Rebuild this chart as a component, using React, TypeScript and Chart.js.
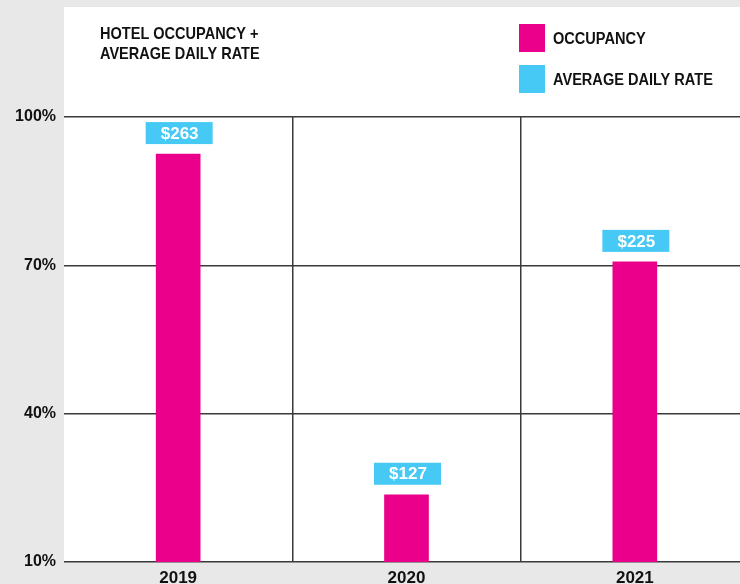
import React, { useEffect, useRef } from 'react';
import { Chart, registerables } from 'chart.js';

Chart.register(...registerables);

const TITLE_LINES = ['HOTEL OCCUPANCY +', 'AVERAGE DAILY RATE'];
const YEARS = ['2019', '2020', '2021'];
const OCCUPANCY = [92.5, 23.6, 70.7];
const ADR = [263, 127, 225];
const Y_TICKS = [10, 40, 70, 100];
const LEGEND_LABELS = ['OCCUPANCY', 'AVERAGE DAILY RATE'];

const PINK = '#EA008A';
const BLUE = '#46C9F5';
const GRAY_BG = '#E8E8E8';
const GRID = '#3a3a3a';
const TEXT = '#111111';
const FONT = "'Liberation Sans', Arial, sans-serif";

function condensedText(ctx: any, text: string, x: number, y: number, sx: number) {
  ctx.save();
  ctx.translate(x, y);
  ctx.scale(sx, 1);
  ctx.fillText(text, 0, 0);
  ctx.restore();
}

const decor = {
  id: 'decor',
  beforeDraw(chart: any) {
    const { ctx, chartArea, width, height } = chart;
    ctx.save();
    ctx.fillStyle = GRAY_BG;
    ctx.fillRect(0, 0, width, height);
    ctx.fillStyle = '#ffffff';
    ctx.fillRect(chartArea.left, 7, width - chartArea.left, chartArea.bottom - 7);

    ctx.fillStyle = TEXT;
    ctx.textAlign = 'left';
    ctx.textBaseline = 'alphabetic';
    ctx.font = `bold 17px ${FONT}`;
    condensedText(ctx, TITLE_LINES[0], 100, 38.5, 0.855);
    condensedText(ctx, TITLE_LINES[1], 100, 58.5, 0.855);

    const colors = [PINK, BLUE];
    LEGEND_LABELS.forEach((lab, i) => {
      const y0 = 24 + i * 41;
      ctx.fillStyle = colors[i];
      ctx.fillRect(519, y0, 26, 28);
      ctx.fillStyle = TEXT;
      ctx.font = `bold 16px ${FONT}`;
      condensedText(ctx, lab, 553, y0 + 20, 0.91);
    });
    ctx.restore();
  },
  afterDatasetsDraw(chart: any) {
    const { ctx } = chart;
    const meta = chart.getDatasetMeta(0);
    ctx.save();
    meta.data.forEach((bar: any, i: number) => {
      const w = 67;
      const h = 22;
      const bottom = bar.y - 10;
      ctx.fillStyle = BLUE;
      ctx.fillRect(bar.x - w / 2 + 1, bottom - h, w, h);
      ctx.fillStyle = '#ffffff';
      ctx.font = `bold 17px ${FONT}`;
      ctx.textAlign = 'center';
      ctx.textBaseline = 'middle';
      ctx.fillText('$' + ADR[i], bar.x + 1.5, bottom - h / 2 + 1);
    });
    ctx.restore();
  },
};

export default function App() {
  const ref = useRef<HTMLCanvasElement | null>(null);
  useEffect(() => {
    document.body.style.margin = '0';
    const canvas = ref.current;
    if (!canvas) return;
    const chart = new Chart(canvas, {
      type: 'bar',
      data: {
        labels: YEARS,
        datasets: [
          {
            label: LEGEND_LABELS[0],
            data: OCCUPANCY,
            backgroundColor: PINK,
            barThickness: 44,
            borderWidth: 0,
          },
        ],
      },
      options: {
        responsive: false,
        animation: false,
        devicePixelRatio: 1,
        layout: { padding: { top: 117, right: 1, left: 0, bottom: 0 } },
        plugins: { legend: { display: false }, tooltip: { enabled: false }, title: { display: false } },
        scales: {
          x: {
            grid: {
              offset: true,
              drawTicks: false,
              lineWidth: 1.5,
              color: (c: any) => (c.index === 1 || c.index === 2 ? GRID : 'rgba(0,0,0,0)'),
            },
            border: { display: false },
            ticks: { color: TEXT, font: { family: FONT, size: 17, weight: 'bold' }, padding: 6 },
            afterFit: (s: any) => {
              s.height = 22;
            },
          },
          y: {
            min: 10,
            max: 100,
            grid: { color: GRID, lineWidth: 1.5, drawTicks: false },
            border: { display: false },
            afterBuildTicks: (s: any) => {
              s.ticks = Y_TICKS.map((v) => ({ value: v }));
            },
            ticks: {
              color: TEXT,
              font: { family: FONT, size: 16, weight: 'bold' },
              padding: 8,
              callback: (v: any) => v + '%',
            },
            afterFit: (s: any) => {
              s.width = 64;
            },
          },
        },
      },
      plugins: [decor],
    });
    return () => chart.destroy();
  }, []);
  return (
    <div style={{ width: 740, height: 584, overflow: 'hidden', background: GRAY_BG }}>
      <canvas ref={ref} width={750} height={584} style={{ display: 'block' }} />
    </div>
  );
}
